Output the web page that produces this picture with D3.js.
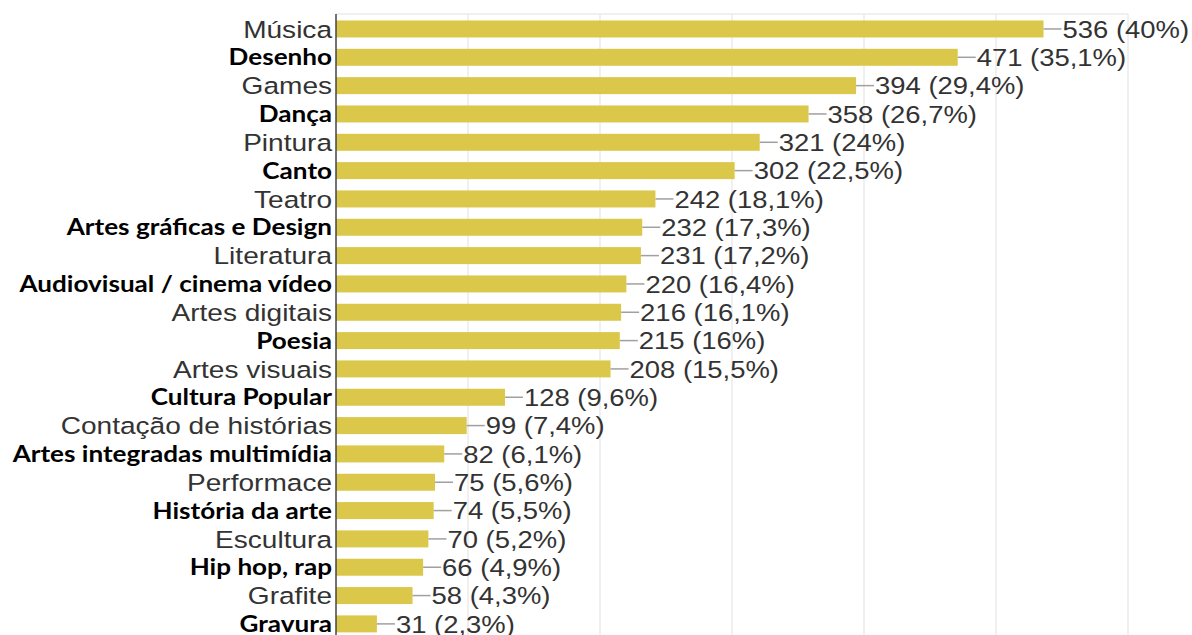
<!DOCTYPE html>
<html>
<head>
<meta charset="utf-8">
<script src="https://cdn.jsdelivr.net/npm/d3@7"></script>
<style>
  html, body { margin: 0; padding: 0; background: #fff; overflow: hidden; }
</style>
</head>
<body>
<script>
// categories, counts and the percent labels as they are printed
const categories = ['Música', 'Desenho', 'Games', 'Dança', 'Pintura', 'Canto', 'Teatro',
  'Artes gráficas e Design', 'Literatura', 'Audiovisual / cinema vídeo', 'Artes digitais',
  'Poesia', 'Artes visuais', 'Cultura Popular', 'Contação de histórias',
  'Artes integradas multimídia', 'Performace', 'História da arte', 'Escultura',
  'Hip hop, rap', 'Grafite', 'Gravura'];
const counts = [536, 471, 394, 358, 321, 302, 242, 232, 231, 220, 216, 215, 208, 128, 99, 82, 75, 74, 70, 66, 58, 31];
const percents = ['40%', '35,1%', '29,4%', '26,7%', '24%', '22,5%', '18,1%', '17,3%', '17,2%', '16,4%',
  '16,1%', '16%', '15,5%', '9,6%', '7,4%', '6,1%', '5,6%', '5,5%', '5,2%', '4,9%', '4,3%', '2,3%'];
const xTicks = [0, 100, 200, 300, 400, 500, 600];

const width = 1192, height = 635;
const axisX = 336, plotRight = 1128, plotTop = 14;
const stretch = 1.12;   // picture is a bit wider than tall

let svg = d3.select('body').append('svg')
  .attr('width', width)
  .attr('height', height);

const x = d3.scaleLinear().domain([0, 600]).range([axisX, plotRight]);
const y = d3.scaleBand().domain(categories)
  .range([plotTop + 0.8, plotTop + 0.8 + categories.length * 28.33])
  .paddingInner(0.4).paddingOuter(0.2);

// grid
svg.append('g').selectAll('line')
  .data(xTicks.slice(1))
  .enter().append('line')
  .attr('x1', d => x(d)).attr('x2', d => x(d))
  .attr('y1', plotTop).attr('y2', height)
  .attr('stroke', '#ebebeb')
  .attr('stroke-width', 1.5);

svg.append('line')
  .attr('x1', axisX).attr('x2', plotRight)
  .attr('y1', plotTop).attr('y2', plotTop)
  .attr('stroke', '#ebebeb')
  .attr('stroke-width', 1.5);

// bars
svg.append('g').selectAll('rect')
  .data(categories)
  .enter().append('rect')
  .attr('x', x(0))
  .attr('y', d => y(d))
  .attr('width', (d, i) => x(counts[i]) - x(0))
  .attr('height', y.bandwidth())
  .attr('fill', '#dbc84b');

// leader lines
svg.append('g').selectAll('line')
  .data(categories)
  .enter().append('line')
  .attr('x1', (d, i) => x(counts[i]))
  .attr('x2', (d, i) => x(counts[i]) + 18)
  .attr('y1', d => y(d) + y.bandwidth() / 2)
  .attr('y2', d => y(d) + y.bandwidth() / 2)
  .attr('stroke', '#a0a0a0')
  .attr('stroke-width', 1.5);

// value labels
svg.append('g').selectAll('text')
  .data(categories)
  .enter().append('text')
  .attr('transform', (d, i) => 'translate(' + (x(counts[i]) + 19) + ',' + (y(d) + y.bandwidth() / 2) + ') scale(' + stretch + ',1)')
  .attr('dy', '0.36em')
  .attr('font-family', 'Liberation Sans, Arial, sans-serif')
  .attr('font-size', 24.5)
  .attr('fill', '#333')
  .text((d, i) => counts[i] + ' (' + percents[i] + ')');

// category labels, every other one in a heavier font
svg.append('g').selectAll('text')
  .data(categories)
  .enter().append('text')
  .attr('transform', (d, i) => 'translate(332,' + (y(d) + y.bandwidth() / 2) + ') scale(' + (i % 2 ? 1.16 : 1.145) + ',1)')
  .attr('text-anchor', 'end')
  .attr('dy', '0.36em')
  .attr('font-family', (d, i) => i % 2 ? 'Lato, sans-serif' : 'Liberation Sans, Arial, sans-serif')
  .attr('font-weight', (d, i) => i % 2 ? 'bold' : 'normal')
  .attr('font-size', (d, i) => i % 2 ? 22.5 : 24.5)
  .attr('fill', (d, i) => i % 2 ? '#000' : '#333')
  .text(d => d);

// axis line
svg.append('line')
  .attr('x1', axisX).attr('x2', axisX)
  .attr('y1', plotTop).attr('y2', height)
  .attr('stroke', '#444')
  .attr('stroke-width', 1.5);
</script>
</body>
</html>
